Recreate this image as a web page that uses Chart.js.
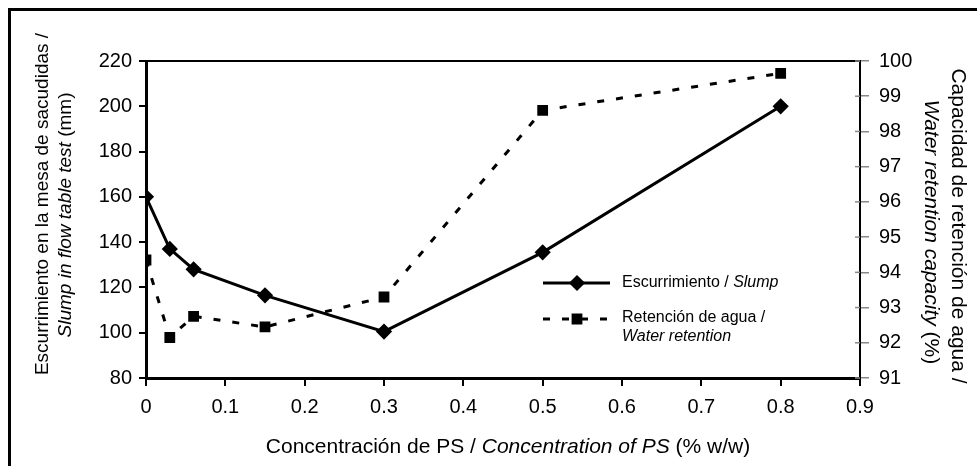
<!DOCTYPE html>
<html>
<head>
<meta charset="utf-8">
<script src="https://cdn.jsdelivr.net/npm/chart.js@4.4.0/dist/chart.umd.min.js"></script>
<style>
  html, body { margin: 0; padding: 0; background: #fff; }
</style>
</head>
<body>
<canvas id="grafico" width="977" height="466"></canvas>
<script>
// Datos
const concentracion = [0, 0.03, 0.06, 0.15, 0.3, 0.5, 0.8];
const escurrimiento = [160, 137, 128, 116.5, 100.5, 135.5, 200];
const retencion = [94.35, 92.15, 92.75, 92.45, 93.3, 98.6, 99.65];

const ticksX = [0, 0.1, 0.2, 0.3, 0.4, 0.5, 0.6, 0.7, 0.8, 0.9];
const ticksIzq = [80, 100, 120, 140, 160, 180, 200, 220];
const ticksDer = [91, 92, 93, 94, 95, 96, 97, 98, 99, 100];

const FUENTE = '"Liberation Sans", Arial, sans-serif';
Chart.defaults.font.family = FUENTE;
Chart.defaults.color = '#000';

// Texto con partes en cursiva
function textoMixto(c, partes, x, y, rot, size, alinear) {
  c.save();
  c.translate(x, y);
  c.rotate(rot);
  const fuente = it => (it ? 'italic ' : '') + size + 'px ' + FUENTE;
  let total = 0;
  partes.forEach(([t, it]) => { c.font = fuente(it); total += c.measureText(t).width; });
  let pos = alinear === 'left' ? 0 : -total / 2;
  c.textAlign = 'left';
  c.textBaseline = 'middle';
  c.fillStyle = '#000';
  partes.forEach(([t, it]) => {
    c.font = fuente(it);
    c.fillText(t, pos, 0);
    pos += c.measureText(t).width;
  });
  c.restore();
}

const marco = {
  id: 'marco',
  afterDraw(chart) {
    const c = chart.ctx;
    const a = chart.chartArea;
    c.save();
    c.strokeStyle = '#000';

    // borde exterior
    c.lineWidth = 3;
    c.beginPath();
    c.moveTo(9.5, chart.height + 5);
    c.lineTo(9.5, 9.5);
    c.lineTo(chart.width + 5, 9.5);
    c.stroke();

    // borde superior del área
    c.lineWidth = 2;
    c.beginPath();
    c.moveTo(a.left, a.top);
    c.lineTo(a.right, a.top);
    c.stroke();

    // marcas del eje derecho hacia dentro
    c.strokeStyle = '#888';
    c.lineWidth = 1.5;
    chart.scales.y2.ticks.forEach(t => {
      const py = chart.scales.y2.getPixelForValue(t.value);
      c.beginPath();
      c.moveTo(a.right - 5, py);
      c.lineTo(a.right, py);
      c.stroke();
    });
    c.strokeStyle = '#000';

    // títulos de ejes
    textoMixto(c, [['Escurrimiento en la mesa de sacudidas /', false]], 43, 204, -Math.PI / 2, 19);
    textoMixto(c, [['Slump in flow table test', true], [' (mm)', false]], 66, 215, -Math.PI / 2, 19);
    textoMixto(c, [['Capacidad de retención de agua /', false]], 958, 226, Math.PI / 2, 21);
    textoMixto(c, [['Water retention capacity', true], [' (%)', false]], 931, 232, Math.PI / 2, 21);
    textoMixto(c, [['Concentración de PS / ', false], ['Concentration of PS', true], [' (% w/w)', false]], 508, 447, 0, 21);

    // leyenda
    c.fillStyle = '#000';
    c.lineWidth = 3;
    c.beginPath();
    c.moveTo(543, 283);
    c.lineTo(610, 283);
    c.stroke();
    Chart.helpers.drawPoint(c, { pointStyle: 'rectRot', radius: 6, borderWidth: 1 }, 577, 283);

    c.setLineDash([7, 12]);
    c.beginPath();
    c.moveTo(543, 319);
    c.lineTo(612, 319);
    c.stroke();
    c.setLineDash([]);
    Chart.helpers.drawPoint(c, { pointStyle: 'rect', radius: 5.5, borderWidth: 1 }, 577, 319);

    textoMixto(c, [['Escurrimiento / ', false], ['Slump', true]], 622, 283, 0, 16, 'left');
    textoMixto(c, [['Retención de agua /', false]], 622, 318, 0, 16, 'left');
    textoMixto(c, [['Water retention', true]], 622, 337, 0, 16, 'left');
    c.restore();
  }
};

new Chart(document.getElementById('grafico'), {
  type: 'line',
  data: {
    datasets: [
      {
        label: 'Escurrimiento / Slump',
        data: concentracion.map((x, i) => ({ x, y: escurrimiento[i] })),
        yAxisID: 'y',
        borderColor: '#000',
        backgroundColor: '#000',
        pointBorderColor: '#000',
        borderWidth: 3,
        pointStyle: 'rectRot',
        pointRadius: 6,
        tension: 0
      },
      {
        label: 'Retención de agua / Water retention',
        data: concentracion.map((x, i) => ({ x, y: retencion[i] })),
        yAxisID: 'y2',
        borderColor: '#000',
        backgroundColor: '#000',
        pointBorderColor: '#000',
        borderWidth: 3,
        borderDash: [7, 12],
        pointStyle: 'rect',
        pointRadius: 5.5,
        tension: 0
      }
    ]
  },
  options: {
    responsive: false,
    animation: false,
    layout: { padding: { top: 61 } },
    plugins: {
      legend: { display: false },
      tooltip: { enabled: false }
    },
    scales: {
      x: {
        type: 'linear',
        min: 0,
        max: 0.9,
        afterBuildTicks: s => { s.ticks = ticksX.map(v => ({ value: v })); },
        afterFit: s => { s.height = 88; },
        ticks: { font: { size: 20 }, padding: 9, maxRotation: 0, autoSkip: false, callback: v => String(v) },
        grid: { drawOnChartArea: false, tickLength: 8, color: '#000', lineWidth: 2 },
        border: { color: '#000', width: 3 }
      },
      y: {
        position: 'left',
        min: 80,
        max: 220,
        afterBuildTicks: s => { s.ticks = ticksIzq.map(v => ({ value: v })); },
        afterFit: s => { s.width = 146; },
        ticks: { font: { size: 20 }, padding: 7 },
        grid: { drawOnChartArea: false, tickLength: 7, color: '#000', lineWidth: 2 },
        border: { color: '#000', width: 3 }
      },
      y2: {
        position: 'right',
        min: 91,
        max: 100,
        afterBuildTicks: s => { s.ticks = ticksDer.map(v => ({ value: v })); },
        afterFit: s => { s.width = 117; },
        ticks: { font: { size: 20 }, padding: 10 },
        grid: { drawOnChartArea: false, tickLength: 9, color: '#888', lineWidth: 1.5 },
        border: { color: '#000', width: 2 }
      }
    }
  },
  plugins: [marco]
});
</script>
</body>
</html>
